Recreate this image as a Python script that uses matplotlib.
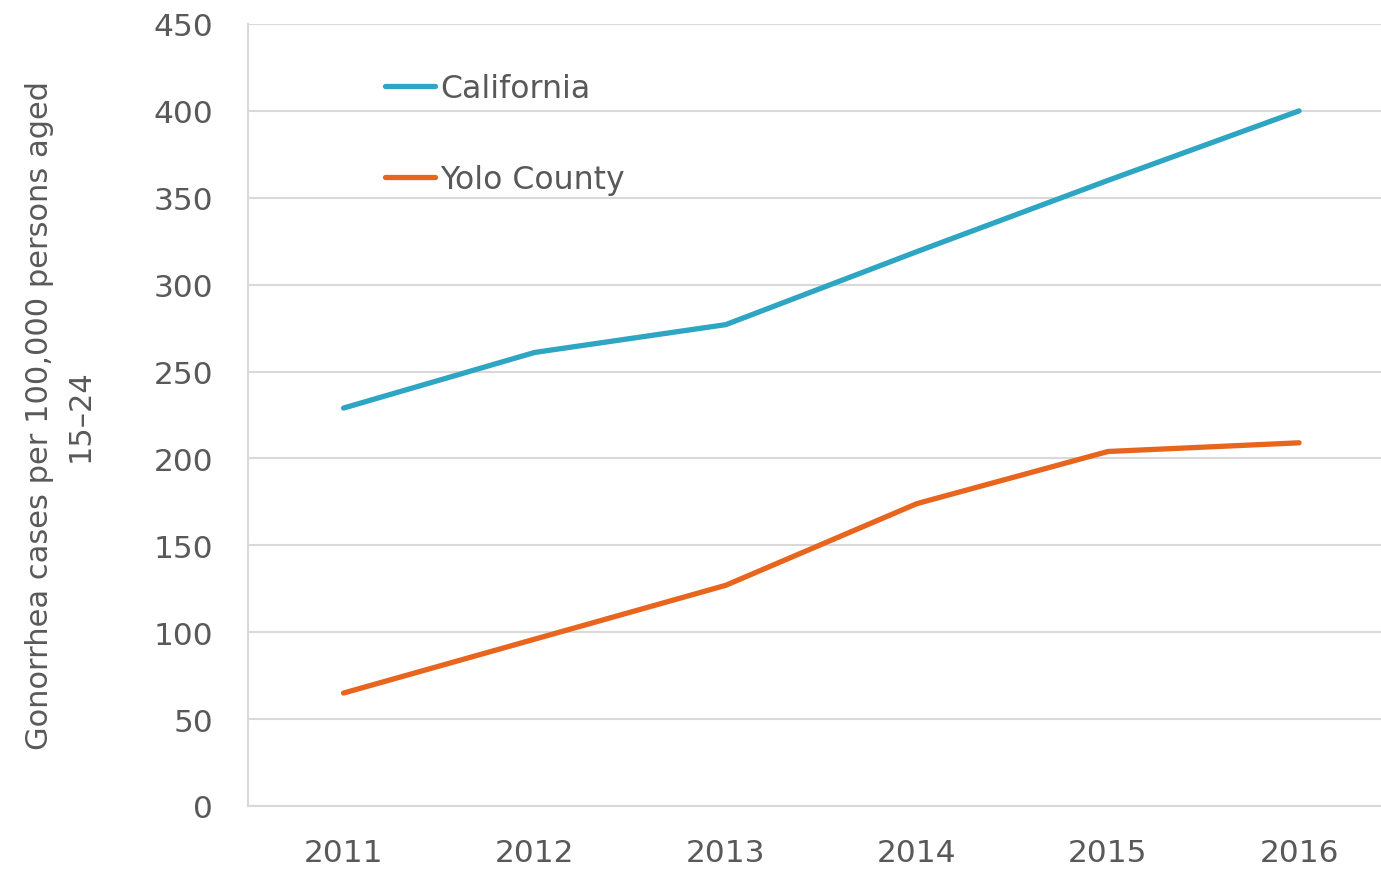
import matplotlib.pyplot as plt

years = ['2011', '2012', '2013', '2014', '2015', '2016']
california = [229, 261, 277, 319, 360, 400]
yolo = [65, 96, 127, 174, 204, 209]

plt.rcParams['font.family'] = ['DejaVu Sans']
gris = '#595959'

fig = plt.figure(figsize=(13.81, 8.7), dpi=100)
ax = fig.add_axes([248 / 1381, 1 - 807 / 870, (1394.6 - 248) / 1381, (807 - 25) / 870])

x = range(len(years))
ax.plot(x, california, color='#2ea5c3', lw=3.8, solid_capstyle='round', label='California')
ax.plot(x, yolo, color='#e8651e', lw=3.8, solid_capstyle='round', label='Yolo County')

ax.set_xlim(-0.5, len(years) - 0.5)
ax.set_ylim(0, 450)
ax.set_yticks(range(0, 451, 50))
ax.set_xticks(list(x))
ax.set_xticklabels(years)
ax.grid(axis='y', color='#d9d9d9', lw=1.5)
ax.set_axisbelow(True)
for s in ['top', 'right']:
    ax.spines[s].set_visible(False)
for s in ['left', 'bottom']:
    ax.spines[s].set_color('#d9d9d9')
    ax.spines[s].set_linewidth(1.5)
ax.tick_params(length=0, labelsize=22.5, colors=gris, pad=25)
ax.tick_params(axis='x', pad=23)

ax.set_ylabel('Gonorrhea cases per 100,000 persons aged\n15\u201324', fontsize=22,
              color=gris, linespacing=1.5)
ax.yaxis.set_label_coords(-0.134, 0.5)

leg = ax.legend(loc='upper left', bbox_to_anchor=(0.1195, 0.937), frameon=False, fontsize=22.7,
                handlelength=1.6, handletextpad=0.15, labelspacing=1.88,
                borderpad=0, borderaxespad=0)
for t in leg.get_texts():
    t.set_color(gris)

plt.savefig('out.png', dpi=100)
plt.close()
